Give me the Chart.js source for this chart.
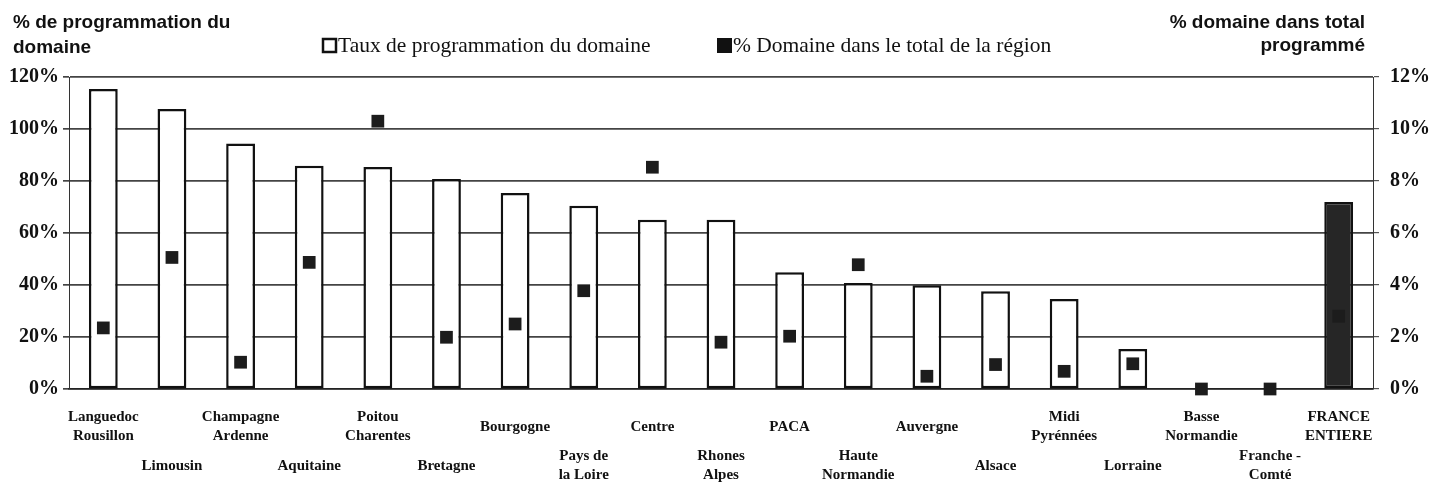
<!DOCTYPE html>
<html>
<head>
<meta charset="utf-8">
<script src="https://cdn.jsdelivr.net/npm/chart.js@4"></script>
<style>
  html, body { margin: 0; padding: 0; background: #fff; }
  #wrap { width: 1447px; height: 490px; }
</style>
</head>
<body>
<div id="wrap"><canvas id="chart" width="1447" height="490"></canvas></div>
<script>
const regions = [
  ["Languedoc", "Rousillon"], ["Limousin"], ["Champagne", "Ardenne"], ["Aquitaine"],
  ["Poitou", "Charentes"], ["Bretagne"], ["Bourgogne"], ["Pays de", "la Loire"],
  ["Centre"], ["Rhones", "Alpes"], ["PACA"], ["Haute", "Normandie"], ["Auvergne"],
  ["Alsace"], ["Midi", "Pyrénnées"], ["Lorraine"], ["Basse", "Normandie"],
  ["Franche -", "Comté"], ["FRANCE", "ENTIERE"]
];
// taux de programmation du domaine (%)
const tauxProg = [115.4, 107.7, 94.4, 85.9, 85.4, 80.8, 75.4, 70.5, 65.1, 65.1,
  44.9, 40.8, 39.9, 37.6, 34.6, 15.4, 0, 0, 71.9];
// % domaine dans le total de la région
const partDomaine = [2.35, 5.06, 1.03, 4.87, 10.3, 1.99, 2.5, 3.78, 8.53, 1.8,
  2.03, 4.78, 0.49, 0.94, 0.68, 0.97, 0, 0, 2.8];
const leftTicks = [0, 20, 40, 60, 80, 100, 120];
const rightTicks = [0, 2, 4, 6, 8, 10, 12];

const SERIF = "'Liberation Serif', 'Times New Roman', serif";
const SANS = "'Liberation Sans', Arial, sans-serif";

const barColors = regions.map((r, i) => i === regions.length - 1 ? "#262626" : "#ffffff");

// titles, legend and staggered category labels
const decor = {
  id: "decor",
  afterDraw(chart) {
    const ctx = chart.ctx;
    ctx.save();
    ctx.fillStyle = "#111";
    ctx.textBaseline = "alphabetic";

    ctx.font = "bold 19px " + SANS;
    ctx.textAlign = "left";
    ctx.fillText("% de programmation du", 13, 28);
    ctx.fillText("domaine", 13, 53);
    ctx.textAlign = "right";
    ctx.fillText("% domaine dans total", 1365, 28);
    ctx.fillText("programmé", 1365, 51);

    // legend
    const ds = chart.data.datasets;
    ctx.font = "21.5px " + SERIF;
    ctx.textAlign = "left";
    ctx.lineWidth = 2.5;
    ctx.strokeStyle = "#111";
    ctx.fillStyle = "#fff";
    ctx.fillRect(323, 39, 13, 13);
    ctx.strokeRect(323, 39, 13, 13);
    ctx.fillStyle = "#111";
    ctx.fillText(ds[1].label, 338, 52);
    ctx.fillRect(717, 38, 15, 15);
    ctx.fillText(ds[0].label, 733, 52);

    // category labels, alternating rows
    const xs = chart.scales.x;
    ctx.font = "bold 15px " + SERIF;
    ctx.textAlign = "center";
    ctx.textBaseline = "middle";
    regions.forEach((lines, i) => {
      const x = xs.getPixelForValue(i);
      const mid = i % 2 === 0 ? 427 : 466;
      const lh = 19;
      const y0 = mid - (lines.length - 1) * lh / 2;
      lines.forEach((t, k) => ctx.fillText(t, x, y0 + k * lh));
    });
    ctx.restore();
  }
};

new Chart(document.getElementById("chart"), {
  data: {
    labels: regions.map(r => r.join(" ")),
    datasets: [
      {
        type: "line",
        label: "% Domaine dans le total de la région",
        data: partDomaine,
        yAxisID: "y1",
        showLine: false,
        pointStyle: "rect",
        pointRadius: 9,
        pointBackgroundColor: "#1c1c1c",
        pointBorderColor: "#1c1c1c",
        pointBorderWidth: 0,
        clip: false,
        order: 0
      },
      {
        type: "bar",
        label: "Taux de programmation du domaine",
        data: tauxProg,
        yAxisID: "y",
        backgroundColor: barColors,
        borderColor: "#111",
        borderWidth: 2.5,
        borderSkipped: false,
        categoryPercentage: 1,
        barPercentage: 0.42,
        order: 1
      }
    ]
  },
  plugins: [decor],
  options: {
    responsive: false,
    animation: false,
    events: [],
    layout: { padding: { top: 77, left: 0, right: 0, bottom: 0 } },
    plugins: { legend: { display: false }, tooltip: { enabled: false } },
    scales: {
      x: {
        type: "category",
        offset: true,
        grid: { display: false },
        border: { display: true, color: "#222", width: 1.6 },
        ticks: { display: false },
        afterFit(scale) { scale.height = 101; }
      },
      y: {
        position: "left",
        min: 0,
        max: 120,
        afterBuildTicks(scale) { scale.ticks = leftTicks.map(v => ({ value: v })); },
        ticks: {
          callback: v => v + "%",
          color: "#111",
          font: { family: SERIF, size: 20, weight: "bold" },
          padding: 4
        },
        grid: { color: "#444", lineWidth: 1.7, tickLength: 6 },
        border: { display: true, color: "#333", width: 1 },
        afterFit(scale) { scale.width = 69; }
      },
      y1: {
        position: "right",
        min: 0,
        max: 12,
        afterBuildTicks(scale) { scale.ticks = rightTicks.map(v => ({ value: v })); },
        ticks: {
          callback: v => v + "%",
          color: "#111",
          font: { family: SERIF, size: 20, weight: "bold" },
          padding: 11
        },
        grid: { drawOnChartArea: false, color: "#555", lineWidth: 1.2, tickLength: 6 },
        border: { display: true, color: "#333", width: 1 },
        afterFit(scale) { scale.width = 74; }
      }
    }
  }
});
</script>
</body>
</html>
